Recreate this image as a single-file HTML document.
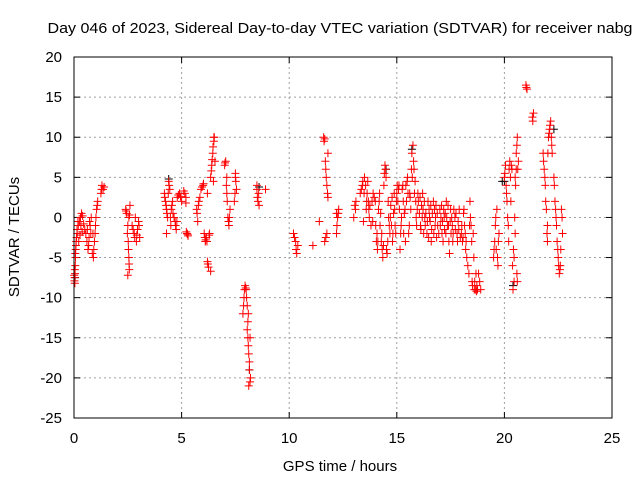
<!DOCTYPE html>
<html>
<head>
<meta charset="utf-8">
<style>
  html,body{margin:0;padding:0;background:#fff;}
  svg{display:block;font-family:"Liberation Sans",sans-serif;}
</style>
</head>
<body>
<svg id="chart" width="640" height="480" viewBox="0 0 640 480" xmlns="http://www.w3.org/2000/svg">
  <rect width="640" height="480" fill="#fff"/>
  <text x="340" y="33" font-size="15" text-anchor="middle" textLength="585" lengthAdjust="spacingAndGlyphs" fill="#000">Day 046 of 2023, Sidereal Day-to-day VTEC variation (SDTVAR) for receiver nabg</text>
  <g id="grid"></g>
  <g id="ticks"></g>
  <g id="blackMarks"></g>
  <g id="redMarks"></g>
  <rect x="74" y="57" width="538" height="361" fill="none" stroke="#000" stroke-width="1"/>
  <text x="340" y="471" font-size="15" text-anchor="middle">GPS time / hours</text>
  <text x="0" y="0" font-size="15" text-anchor="middle" transform="translate(19,237) rotate(-90)">SDTVAR / TECUs</text>
</svg>
<script>
const xTicks=[0,5,10,15,20,25];
const yTicks=[-25,-20,-15,-10,-5,0,5,10,15,20];
const redSeries=[
[0.01,-7.2],[0.02,-7.9],[0.03,-7.5],[0.04,-8.2],[0.05,-7],[0.06,-6],[0.07,-5],[0.08,-4],[0.09,-3.5],[0.1,-3],[0.12,-2.5],
[0.15,-2],[0.2,-1],[0.25,-0.5],[0.3,0],[0.35,0.5],[0.4,0.2],[0.45,-0.8],[0.5,-1.5],[0.22,-3],[0.28,-2.2],
[0.55,-2],[0.6,-3],[0.65,-4],[0.7,-2.5],[0.75,-1],[0.8,0],[0.85,-4.5],[0.9,-5],[0.95,-3],[1.0,-1],[1.05,1],[1.1,2],[0.72,-0.5],[0.88,-2],
[1.25,3],[1.3,4],[1.35,3.5],[1.4,3.8],
[2.4,1],[2.45,0.5],[2.5,-1],[2.52,-3],[2.55,-5],[2.57,-6.5],[2.5,-7.2],[2.6,1.5],[2.55,0],
[2.7,-1],[2.8,-2],[2.9,-3],[2.95,-1.5],[3.0,-0.5],[3.05,-2.5],[2.85,0],
[4.2,3],[4.25,2],[4.3,1],[4.35,0],[4.4,4.5],[4.45,3.5],[4.5,-1],[4.55,1.5],[4.6,0.5],[4.7,-0.5],[4.75,-1.5],[4.8,2.5],[4.9,3],[5.0,2],[4.3,-2],
[5.1,3.3],[5.2,2.5],[5.25,-2],[5.3,-2.3],[5.2,1.8],
[5.7,1],[5.8,2],[5.9,3.5],[6.0,4],[5.75,-0.5],[6.05,-2],[6.1,-3],[6.15,-2.5],[6.2,-5.5],[6.25,-6.2],[6.3,-2],[6.35,-6.7],[6.2,3],
[6.35,5],[6.4,6.5],[6.45,8],[6.5,9.5],[6.52,10],[6.55,7],[6.48,4.5],
[7.0,6.5],[7.05,7],[7.1,3],[7.15,0],[7.2,-1],[7.25,1],[7.1,5],
[7.5,5],[7.55,3.5],[7.45,2],[7.5,5.5],
[7.85,-12],[7.9,-10],[7.95,-8.5],[8.0,-9],[8.05,-11],[8.1,-12],
[8.05,-14],[8.1,-16],[8.15,-18],[8.2,-20],[8.12,-21],[8.18,-15],
[8.5,3.5],[8.55,2],[8.6,1.5],[8.5,4],[8.9,3.5],
[10.2,-2],[10.3,-3],[10.35,-4.5],[10.4,-3.5],
[11.1,-3.5],[11.4,-0.5],
[11.6,10],[11.65,9.8],[11.7,6],[11.75,4],[11.8,2.5],[11.65,-3],[11.75,-2],[11.8,8],
[12.2,-2],[12.25,0],[12.3,1],[12.2,0.5],
[13.0,0],[13.05,1.5],[13.1,2],
[13.3,3],[13.4,4],[13.5,5],[13.6,2],[13.7,1],[13.8,-1],[13.9,3],[14.0,2],[13.45,-0.5],[13.65,4.5],
[14.05,-3],[14.1,-4],[14.15,1],[14.2,3],[14.3,-2],[14.35,-5],[14.4,4],[14.45,6.5],[14.5,5],[14.55,-4.5],[14.6,2],[14.7,0],[14.8,-3],[14.9,1],[14.95,-2],[14.25,0.5],[14.65,-1],
[15.0,3],[15.1,4],[15.2,-1],[15.3,2],[15.4,-3],[15.5,5],[15.6,3],[15.7,8],[15.75,9],[15.8,6],[15.9,0],[15.15,-4],[15.35,0.5],[15.55,-2],[15.85,4.5],[15.25,3.5],[15.65,1],
[16.0,2],[16.1,-1],[16.2,3],[16.3,0],[16.4,-2],[16.5,1],[16.6,-3],[16.7,2],[16.8,0],[16.9,-1],[16.15,1.5],[16.55,-0.5],
[17.0,1],[17.1,-2],[17.2,0],[17.3,2],[17.4,-1],[17.5,1],[17.6,-3],[17.7,0],[17.8,-2],[17.9,1],[17.45,-4.5],
[18.0,-2],[18.1,0.5],[18.2,-4],[18.3,-6],[18.4,2],[18.5,-8],[18.6,-9],[18.7,-9.2],[18.8,-7],[18.9,-9],[18.55,-2],[18.45,-1],
[19.5,-5],[19.55,-3],[19.6,0],[19.65,1],[19.7,-6],[19.75,-2],
[20.0,5],[20.05,6.5],[20.1,3],[20.15,0],[20.2,-3],[20.25,7],[20.3,2],
[20.35,6],[20.4,-9],[20.45,-8],[20.5,-2],[20.55,8],[20.6,10],[20.65,7],[20.5,5],[20.42,-4],[20.6,-8],
[21.0,16.5],[21.05,16],[21.3,12.5],[21.35,13],
[21.8,8],[21.85,6],[21.9,4],[21.95,1],[22.0,-3],[22.05,10],[22.1,11],[22.15,12],[22.2,9],[22.0,-1],
[22.3,5],[22.35,2],[22.4,0],[22.45,-3],[22.5,-5],[22.55,-7],[22.6,-6],[22.65,1],[22.7,-2]
];
const redExtra=[
[0.04,-6.5],[0.06,-4.5],[0.14,-1.5],[0.18,-0.5],[0.32,-1],[0.38,-1.8],[0.62,-1.5],[0.68,-3.5],[0.78,-2],[0.92,-4],[0.98,-2],[1.02,0],[1.08,1.5],[1.28,3.5],
[2.42,0.8],[2.48,-2],[2.53,-4],[2.56,-5.8],[2.58,0.3],[2.75,-1.5],[2.82,-2.5],[2.92,-2.2],[3.02,-1],
[4.22,2.5],[4.28,1.5],[4.32,0.5],[4.38,3],[4.42,4],[4.48,0],[4.52,1],[4.58,2],[4.65,0],[4.72,-1],[4.78,-0.5],[4.85,2.8],[4.95,2.6],
[5.15,3],[5.22,-1.8],[5.28,-2.1],
[5.72,0.5],[5.78,1.5],[5.85,2.5],[5.95,3.8],[6.02,4.2],[6.08,-2.5],[6.12,-2.8],[6.18,-3],[6.22,-5.8],[6.28,-2.2],[6.38,5.8],[6.42,7.2],[6.46,8.8],[6.5,10],
[7.02,6.8],[7.08,4],[7.12,2],[7.18,-0.5],[7.22,0],[7.48,3],[7.52,4.5],
[7.88,-11],[7.92,-9],[7.98,-8.8],[8.02,-10],[8.08,-13],[8.08,-15],[8.12,-17],[8.15,-19],[8.18,-20.5],[8.52,2.5],[8.58,3],
[10.25,-2.5],[10.32,-4],[11.62,9.5],[11.68,7],[11.72,5],[11.78,3],[11.7,-2.5],[12.22,-1],[12.28,0.5],[13.08,1],
[13.35,3.5],[13.42,4.5],[13.48,3],[13.55,4],[13.58,1],[13.62,3],[13.68,2],[13.72,0],[13.75,1.5],[13.85,2],[13.88,-0.5],[13.95,2.5],
[14.02,-1],[14.08,-2],[14.12,-3],[14.18,2],[14.22,-1],[14.28,-3],[14.32,-4],[14.38,-3.5],[14.42,5.5],[14.48,6],[14.52,-4],[14.58,-3],[14.62,0],[14.68,-2],[14.72,1.5],[14.75,-1],[14.78,2.5],[14.82,-2],[14.85,0.5],[14.88,3],[14.92,-1],[14.98,2],
[15.02,4],[15.05,2],[15.08,3.5],[15.12,1],[15.18,-2],[15.22,0],[15.28,4],[15.32,-2],[15.38,1],[15.42,4],[15.45,2],[15.48,4.5],[15.52,3],[15.58,-1],[15.62,2.5],[15.68,6],[15.72,5],[15.78,7],[15.82,3],[15.88,2],[15.92,-1],[15.95,1],[15.98,3],
[16.05,0.5],[16.08,2.5],[16.12,-1.5],[16.18,0],[16.22,1],[16.25,-2],[16.28,2],[16.32,-1],[16.35,0.5],[16.42,-0.5],[16.45,2],[16.48,-2.5],[16.52,0],[16.58,1.5],[16.62,-1.5],[16.65,0.5],[16.72,-2],[16.75,1],[16.78,-1],[16.82,1.5],[16.85,-2.5],[16.88,0.5],[16.95,-2],
[17.02,-1],[17.05,0],[17.08,1.5],[17.12,-0.5],[17.15,-3],[17.18,1],[17.22,-1.5],[17.25,0.5],[17.28,-2],[17.32,0],[17.35,-1],[17.38,1.5],[17.42,-3],[17.48,-0.5],[17.52,-2],[17.55,0],[17.58,-1],[17.62,-2],[17.65,1],[17.72,-1.5],[17.75,0.5],[17.82,-3],[17.85,-0.5],[17.88,-1.5],[17.95,-2.5],
[18.02,-1],[18.05,-3],[18.08,-2.5],[18.12,1],[18.15,-1],[18.18,-2],[18.22,-3],[18.25,-5],[18.35,-7],[18.38,-1],[18.42,0],[18.48,-3],[18.52,-8.5],[18.58,-5],[18.62,-8],[18.65,-9],[18.68,-7],[18.72,-8.5],[18.75,-9],[18.85,-8],
[19.52,-4],[19.58,-1],[19.62,-4],[19.68,-5],[19.72,-3],
[20.02,5.5],[20.08,4],[20.12,2],[20.18,-1],[20.22,6],[20.28,5],[20.32,6.5],[20.38,-6],[20.45,-5],[20.48,0],[20.52,4],[20.55,6],[20.58,9],[20.62,6],[20.58,-7],
[21.02,16.2],[21.32,12],[21.82,7],[21.88,5],[21.92,2],[21.98,-2],[22.02,8],[22.08,10.5],[22.12,11.5],[22.18,10],[22.22,8],
[22.32,4],[22.38,1],[22.42,-1],[22.48,-4],[22.52,-6],[22.58,-6.5],[22.62,-4],[22.68,0]
];
const blackSeries=[
[0.05,-7.5],[4.4,4.8],[8.15,-19],[20.4,-8.5],[22.3,11],[20.0,4.5],[8.6,3.8],[19.9,4.5],[15.7,8.5],[14.5,6]
];

const NS="http://www.w3.org/2000/svg";
const L=74,R=612,T=57,B=418;
const xMin=0,xMax=25,yMin=-25,yMax=20;
function xs(v){return L+(v-xMin)/(xMax-xMin)*(R-L);}
function ys(v){return B-(v-yMin)/(yMax-yMin)*(B-T);}
function mk(tag,attrs,parent){const e=document.createElementNS(NS,tag);for(const k in attrs)e.setAttribute(k,attrs[k]);parent.appendChild(e);return e;}

const grid=document.getElementById('grid');
const ticks=document.getElementById('ticks');
xTicks.forEach(t=>{
  const x=xs(t);
  if(t>xMin&&t<xMax){
    const g=mk('line',{x1:x,y1:T,x2:x,y2:B,stroke:'#a0a0a0','stroke-dasharray':'2,3'},grid);
    
    
  }
  mk('line',{x1:x,y1:B,x2:x,y2:B-6,stroke:'#000'},ticks);
  mk('line',{x1:x,y1:T,x2:x,y2:T+6,stroke:'#000'},ticks);
  const lbl=mk('text',{x:x,y:B+25,'font-size':15,'text-anchor':'middle'},ticks);
  lbl.textContent=t;
  
  
});
yTicks.forEach(t=>{
  const y=ys(t);
  if(t>yMin&&t<yMax){
    const g=mk('line',{x1:L,y1:y,x2:R,y2:y,stroke:'#a0a0a0','stroke-dasharray':'2,3'},grid);
    
    
  }
  mk('line',{x1:L,y1:y,x2:L+6,y2:y,stroke:'#000'},ticks);
  mk('line',{x1:R,y1:y,x2:R-6,y2:y,stroke:'#000'},ticks);
  const lbl=mk('text',{x:L-12,y:y+5,'font-size':15,'text-anchor':'end'},ticks);
  lbl.textContent=t;
  
  
});

function drawSeries(data,color,gid){
  const g=document.getElementById(gid);
  data.forEach(p=>{
    const x=xs(p[0]),y=ys(p[1]);
    const path=mk('path',{d:`M${x-4},${y}H${x+4}M${x},${y-4}V${y+4}`,stroke:color,'stroke-width':1,fill:'none'},g);
    
    
  });
}
drawSeries(blackSeries,'#000','blackMarks');
drawSeries(redSeries,'#ff0000','redMarks');
drawSeries(redExtra,'#ff0000','redMarks');
</script>
</body>
</html>
